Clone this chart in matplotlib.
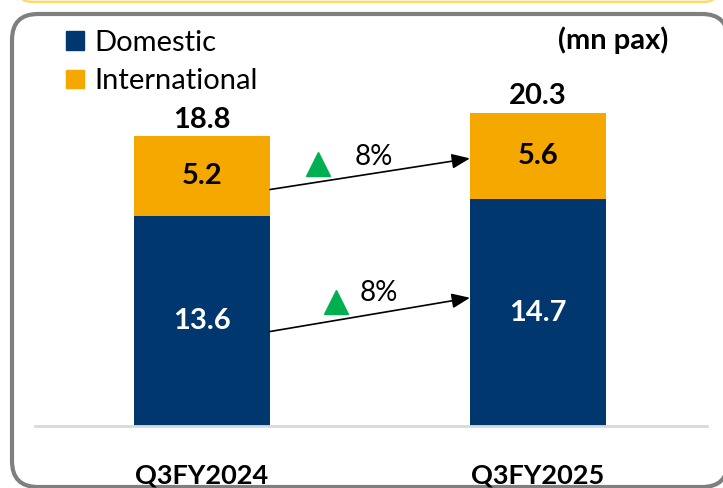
import matplotlib
matplotlib.use("Agg")
import matplotlib.pyplot as plt
from matplotlib.patches import FancyBboxPatch, Patch

plt.rcParams['font.family'] = ['Lato', 'DejaVu Sans']

# -------------------------
# data
# -------------------------
periods = ["Q3FY2024", "Q3FY2025"]
domestic = [13.6, 14.7]
international = [5.2, 5.6]
totals = [18.8, 20.3]
growth_labels = ["8%", "8%"]  # international, domestic

COLORS = {
    'dom': '#00376F',
    'intl': '#F4A800',
    'up': '#00B050',
    'base': '#D9D9D9',
    'frame': '#7F7F7F',
}

fig = plt.figure(figsize=(7.23, 4.88), dpi=100)

# background frame drawn in pixel coordinates
bg = fig.add_axes([0, 0, 1, 1], zorder=0)
bg.set_xlim(0, 723)
bg.set_ylim(488, 0)
bg.axis('off')
bg.add_patch(FancyBboxPatch((18, -40), 700, 42, boxstyle="round,pad=0,rounding_size=14",
                            facecolor='#FFF2CC', edgecolor='#FFD966', lw=1.5))
bg.add_patch(FancyBboxPatch((12, 14), 716, 473, boxstyle="round,pad=0,rounding_size=26",
                            facecolor='white', edgecolor=COLORS['frame'], lw=3))

# main axes
ax = fig.add_axes([35 / 723, 62 / 488, 672 / 723, 326 / 488], zorder=1)
ax.patch.set_alpha(0)
x = range(len(periods))
width = 0.405
ax.bar(x, domestic, width, color=COLORS['dom'], label='Domestic')
ax.bar(x, international, width, bottom=domestic, color=COLORS['intl'], label='International')
ax.set_xlim(-0.497, 1.503)
ax.set_ylim(0, 326 / 15.44)

for s in ['top', 'right', 'left']:
    ax.spines[s].set_visible(False)
ax.spines['bottom'].set_color(COLORS['base'])
ax.spines['bottom'].set_linewidth(2)
ax.set_yticks([])
ax.set_xticks(list(x))
ax.set_xticklabels(periods, fontsize=19.5, fontweight='bold')
ax.tick_params(axis='x', length=0, pad=27)

for i in x:
    ax.text(i, domestic[i] / 2, f"{domestic[i]:.1f}", ha='center', va='center',
            color='white', fontsize=21, fontweight='bold')
    ax.text(i, domestic[i] + international[i] / 2, f"{international[i]:.1f}", ha='center',
            va='center', color='black', fontsize=21, fontweight='bold')
    ax.text(i, totals[i] + 0.2, f"{totals[i]:.1f}", ha='center', va='bottom',
            color='black', fontsize=21, fontweight='bold')

# growth arrows (start/end as fraction of each segment)
x0, x1 = 0 + width / 2, 1 - width / 2
y_top = (domestic[0] + 0.33 * international[0], domestic[1] + 0.47 * international[1])
y_bot = (0.45 * domestic[0], 0.565 * domestic[1])
for (ya, yb), lab, tri, txt in [
        (y_top, growth_labels[0], (0.345, 17.0), (0.51, 17.4)),
        (y_bot, growth_labels[1], (0.40, 8.0), (0.525, 8.6))]:
    ax.annotate('', xy=(x1, yb), xytext=(x0, ya),
                arrowprops=dict(arrowstyle='-|>,head_length=1.1,head_width=0.45',
                                color='black', lw=1.2, shrinkA=0, shrinkB=0))
    ax.plot(*tri, marker='^', ms=17, color=COLORS['up'], ls='none')
    ax.text(*txt, lab, ha='center', va='center', fontsize=20)

fig.text(613 / 723, 1 - 40 / 488, "(mn pax)", ha='center', va='center',
         fontsize=21, fontweight='bold')

handles = [Patch(color=COLORS['dom']), Patch(color=COLORS['intl'])]
fig.legend(handles, ['Domestic', 'International'], loc='upper left',
           bbox_to_anchor=(66 / 723, 1 - 30 / 488), frameon=False, fontsize=21,
           handlelength=0.62, handleheight=0.62, handletextpad=0.35, labelspacing=0.42,
           borderpad=0, borderaxespad=0)

fig.savefig("out.png", dpi=100)
